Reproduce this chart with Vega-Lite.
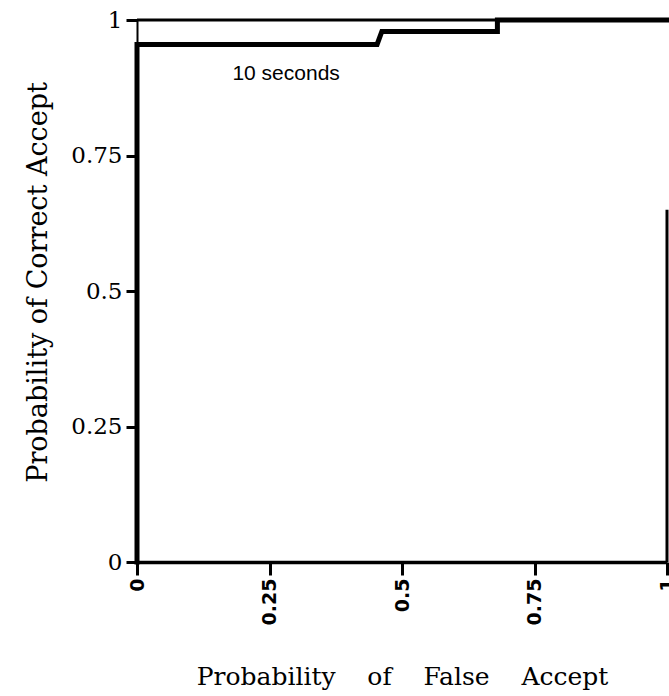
{
  "$schema": "https://vega.github.io/schema/vega-lite/v6.json",
  "autosize": "none",
  "width": 530,
  "height": 542,
  "padding": {"left": 137, "top": 20, "right": 2, "bottom": 134},
  "background": "white",
  "config": {
    "view": {"stroke": null},
    "axis": {"grid": false, "domainColor": "black", "tickColor": "black", "labelColor": "black", "titleColor": "black"}
  },
  "datasets": {
    "curve": [
      {"order": 1, "far": 0, "pca": 0},
      {"order": 2, "far": 0, "pca": 0.955},
      {"order": 3, "far": 0.453, "pca": 0.955},
      {"order": 4, "far": 0.462, "pca": 0.979},
      {"order": 5, "far": 0.68, "pca": 0.979},
      {"order": 6, "far": 0.68, "pca": 1},
      {"order": 7, "far": 1, "pca": 1}
    ],
    "frame": [
      {"x1": 0, "x2": 1, "y1": 1, "y2": 1},
      {"x1": 1, "x2": 1, "y1": 0, "y2": 0.65}
    ],
    "labels": [
      {"far": 0.18, "pca": 0.9, "label": "10 seconds"}
    ]
  },
  "layer": [
    {
      "data": {"name": "frame"},
      "mark": {"type": "rule", "color": "black", "strokeWidth": 3},
      "encoding": {
        "x": {"field": "x1", "type": "quantitative", "scale": {"domain": [0, 1], "nice": false},
          "axis": {
            "values": [0, 0.25, 0.5, 0.75, 1],
            "labelExpr": "'' + datum.value",
            "labelAngle": 270,
            "labelFont": "DejaVu Sans",
            "labelFontWeight": "bold",
            "labelFontSize": 19,
            "labelPadding": 3,
            "tickSize": 13,
            "tickWidth": 3,
            "domainWidth": 3.5,
            "title": "Probability\u00a0\u00a0\u00a0\u00a0of\u00a0\u00a0\u00a0\u00a0False\u00a0\u00a0\u00a0\u00a0Accept",
            "titleFont": "DejaVu Serif",
            "titleFontSize": 25,
            "titleFontWeight": "normal",
            "titlePadding": 40
          }},
        "x2": {"field": "x2"},
        "y": {"field": "y1", "type": "quantitative", "scale": {"domain": [0, 1], "nice": false},
          "axis": {
            "values": [0, 0.25, 0.5, 0.75, 1],
            "labelExpr": "'' + datum.value",
            "labelFont": "DejaVu Serif",
            "labelFontSize": 23,
            "labelPadding": 4,
            "tickSize": 11,
            "tickWidth": 3,
            "domainWidth": 2,
            "title": "Probability of Correct Accept",
            "titleFont": "DejaVu Serif",
            "titleFontSize": 27,
            "titleFontWeight": "normal",
            "titlePadding": 18,
            "titleY": 262
          }},
        "y2": {"field": "y2"}
      }
    },
    {
      "data": {"name": "curve"},
      "mark": {"type": "line", "color": "black", "strokeWidth": 5, "strokeJoin": "miter", "strokeCap": "square"},
      "encoding": {
        "x": {"field": "far", "type": "quantitative"},
        "y": {"field": "pca", "type": "quantitative"},
        "order": {"field": "order", "type": "quantitative"}
      }
    },
    {
      "data": {"name": "labels"},
      "mark": {"type": "text", "align": "left", "baseline": "middle", "font": "Liberation Sans", "fontSize": 21, "color": "black"},
      "encoding": {
        "x": {"field": "far", "type": "quantitative"},
        "y": {"field": "pca", "type": "quantitative"},
        "text": {"field": "label"}
      }
    }
  ]
}
